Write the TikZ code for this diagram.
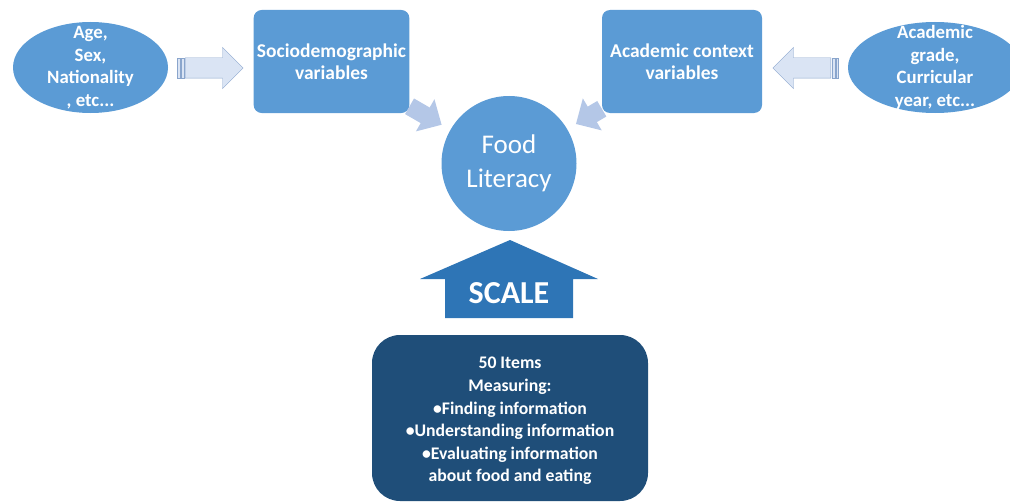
\documentclass[tikz,border=0pt]{standalone}
\usepackage{fontspec}
\setmainfont{Carlito}
\usetikzlibrary{calc}
\usetikzlibrary{positioning}
\usetikzlibrary{shapes.geometric}
\usetikzlibrary{shapes.arrows}
\usetikzlibrary{arrows.meta}

\definecolor{midblue}{HTML}{5B9BD5}
\definecolor{paleblue}{HTML}{DAE4F4}
\definecolor{edgeblue}{HTML}{8AA5CC}
\definecolor{diagblue}{HTML}{B4C7E7}
\definecolor{scaleblue}{HTML}{2E75B6}
\definecolor{navyblue}{HTML}{1F4E79}

\tikzset{
  varbox/.style={rectangle, rounded corners=8pt, fill=midblue, text=white, align=center,
    minimum height=103pt, font=\bfseries\fontsize{19.5}{21.5}\selectfont},
  infoell/.style={ellipse, fill=midblue, inner sep=0pt},
  elltext/.style={text=white, align=center, font=\bfseries\fontsize{18.8}{22.5}\selectfont},
  hollowarrow/.style={single arrow, draw=edgeblue, fill=paleblue, inner sep=0pt,
    text height=20pt, text depth=0pt, minimum height=58pt, single arrow head extend=10.5pt},
  stripe/.style={draw=edgeblue, fill=paleblue, line width=0.6pt},
  diagarrow/.style={diagblue, line width=18pt, shorten >=10pt, -{Triangle[length=19pt,width=36pt]}},
}

\begin{document}
\begin{tikzpicture}[x=1pt, y=-1pt]
      \useasboundingbox (0,0) rectangle (1010,503);
      % input ellipses and variable boxes
      \node[infoell, minimum width=155pt, minimum height=91pt,
        label={[elltext]center:Age,\\Sex,\\Nationality\\, etc...}] (ageEll) at (90.5,67.5) {};
      \node[infoell, minimum width=174pt, minimum height=91pt,
        label={[elltext]center:Academic\\grade,\\Curricular\\year, etc...}] (gradeEll) at (935,67.5) {};
      \node[varbox, minimum width=155pt] (socio) at (331.5,61.5) {Sociodemographic\\variables};
      \node[varbox, minimum width=160pt] (acad) at (682,61.5) {Academic context\\variables};
      \node[circle, fill=midblue, minimum size=135pt, inner sep=0pt,
        label={[text=white, align=center, font=\fontsize{27}{34}\selectfont]center:Food\\Literacy}] (food) at (509,163.5) {};
      % block arrows
      \node[hollowarrow, anchor=tail] (sdArrow) at (185,68) {};
      \draw[stripe] ($(sdArrow.tail)+(-7.5,-10)$) rectangle ++(2.5,20);
      \draw[stripe] ($(sdArrow.tail)+(-4,-10)$) rectangle ++(3,20);
      \node[hollowarrow, shape border rotate=180, anchor=tail] (acArrow) at (831,68) {};
      \draw[stripe] ($(acArrow.tail)+(1,-10)$) rectangle ++(3,20);
      \draw[stripe] ($(acArrow.tail)+(5,-10)$) rectangle ++(2.5,20);
      \draw[diagarrow] (socio) -- (food);
      \draw[diagarrow] (acad) -- (food);
      % scale
      \fill[scaleblue] (445,318) -- (445,279) -- (420,279) -- (510,240) -- (598,279) -- (573,279) -- (573,318) -- cycle;
      \node[text=white, font=\bfseries\fontsize{32}{32}\selectfont] (scale) at (509,293) {SCALE};
      \node[rectangle, rounded corners=28pt, fill=navyblue, minimum width=276pt, minimum height=166pt,
        label={[text=white, align=center, yshift=-3pt, font=\bfseries\fontsize{17.7}{22.6}\selectfont]center:50 Items\\Measuring:\\•Finding information\\•Understanding information\\•Evaluating information\\about food and eating}] (items) at (510,418) {};
    \end{tikzpicture}
\end{document}
